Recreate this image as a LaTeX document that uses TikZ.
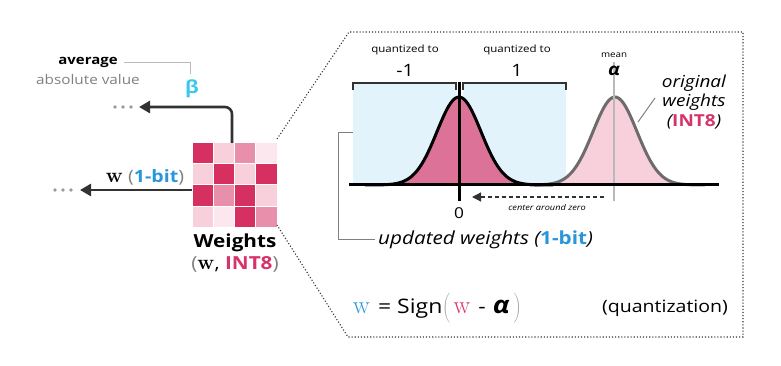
\documentclass[tikz,border=0pt]{standalone}
\usepackage[no-math]{fontspec}
\setmainfont{Open Sans}[FakeStretch=1.15]
\usetikzlibrary{arrows.meta}
\definecolor{pdark}{RGB}{214,48,96}
\definecolor{pmed}{RGB}{232,143,171}
\definecolor{plight}{RGB}{247,208,220}
\definecolor{pvlight}{RGB}{251,231,237}
\definecolor{pcurve}{RGB}{221,114,153}
\definecolor{pinktxt}{RGB}{214,51,106}
\definecolor{bluetxt}{RGB}{41,150,220}
\definecolor{cyantxt}{RGB}{60,200,235}
\definecolor{bluefill}{RGB}{227,243,252}
\definecolor{darkline}{RGB}{50,50,50}
\newcommand{\fs}[1]{\fontsize{#1}{#1}\selectfont}
\newcommand{\bw}[1]{{\fontsize{#1}{#1}\selectfont$\mathbf{w}$}}
\newcommand{\rw}[1]{{\fontsize{#1}{#1}\selectfont$\mathrm{w}$}}
\newcommand{\lparbig}{\textcolor{gray!70}{$\left(\vcenter to 31pt{}\right.$}}
\newcommand{\rparbig}{\textcolor{gray!70}{$\left.\vcenter to 31pt{}\right)$}}
\tikzset{
  arr/.style={darkline, line width=2.6pt, -{Triangle[length=11pt,width=12pt]}},
  dotc/.style={fill=gray!80},
  lead/.style={gray!55, line width=0.8pt},
  thick3/.style={line width=3pt},
  bracket/.style={darkline, line width=1.4pt},
  txt/.style={inner sep=0pt, anchor=center},
}
\begin{document}
\begin{tikzpicture}[x=1pt,y=-1pt]
\useasboundingbox (0,0) rectangle (781,366);
% ---------- weight grid ----------
\node[minimum width=85pt, minimum height=84pt, inner sep=0pt] (grid) at (234.5,185) {};
\def\cs{21.25}
\foreach \row/\cols in {0/{pdark,plight,pmed,pvlight},1/{plight,pdark,plight,pdark},2/{pdark,pmed,pdark,plight},3/{plight,pvlight,pdark,pmed}}{
  \foreach \c [count=\i from 0] in \cols {
    \fill[\c, draw=white, line width=1pt] (192+\i*\cs,143+\row*21) rectangle ++(\cs,21);
  }
}
\node[txt, font=\fs{18}\bfseries] (wlab) at (235,243) {Weights};
\node[txt, font=\fs{18}] (wlab2) at (235,264) {\textcolor{gray}{(}\bw{21}, \textcolor{pinktxt}{\bfseries INT8}\textcolor{gray}{)}};
% ---------- w arrow ----------
\coordinate (wend) at (80,190);
\draw[arr] (grid.west |- wend) -- (wend);
\foreach \xx in {55,63,71} \fill[dotc] (\xx,190) circle (1.8pt);
\node[txt, font=\fs{17}] (wtxt) at (145,177) {\bw{21} \textcolor{gray}{(}\textcolor{bluetxt}{\bfseries 1-bit}\textcolor{gray}{)}};
% ---------- beta arrow ----------
\coordinate (bend) at (139,107);
\draw[arr, rounded corners=7pt] (232,143) |- (bend);
\foreach \xx in {115,123,131} \fill[dotc] (\xx,107) circle (1.8pt);
\node[txt, font=\fs{18}\bfseries, text=cyantxt] (beta) at (192,89) {β};
\node[txt, font=\fs{13}\bfseries] (avg) at (88,62) {average};
\node[txt, font=\fs{13.3}, text=gray] (absv) at (88,80) {absolute value};
\draw[lead] (124,62) -- (190,62) -- (190,74);
% ---------- dotted zoom region ----------
\draw[darkline, dotted, line width=1.1pt] (277,139) -- (349,32) -- (743,32) -- (743,337) -- (348,337) -- (277,225);
% ---------- distributions ----------
\fill[bluefill] (353,84) rectangle (457,185);
\fill[bluefill] (463,84) rectangle (566,185);
\draw[bracket] (353,90) -- (353,83) -- (456,83) -- (456,90);
\draw[bracket] (463,90) -- (463,83) -- (566,83) -- (566,90);
\node[txt, font=\fs{10}] (q1) at (405,50) {quantized to};
\node[txt, font=\fs{10}] (q2) at (517,50) {quantized to};
\node[txt, font=\fs{17}] (m1) at (405,70) {-1};
\node[txt, font=\fs{17}] (p1) at (517,70) {1};
% original (gray) gaussian
\fill[plight] plot[domain=540:700, samples=90] (\x,{185-88*exp(-((\x-615)/22)^2/2)}) -- cycle;
% black gaussian
\fill[pcurve] plot[domain=370:548, samples=100] (\x,{185-88*exp(-((\x-459)/22)^2/2)}) -- cycle;
\draw[gray!85!black, line width=3pt] plot[domain=530:705, samples=100] (\x,{185-88*exp(-((\x-615)/22)^2/2)});
\draw[black, line width=3pt] plot[domain=365:553, samples=100] (\x,{185-88*exp(-((\x-459)/22)^2/2)});
% mean line
\draw[gray!55, line width=1.5pt] (614,62) -- (614,201);
\node[txt, font=\fs{8.5}] (mean) at (614,55) {mean};
\node[txt, font=\fs{17}\bfseries\itshape] (alpha) at (614,71) {α};
% axis and zero
\draw[thick3] (349,185) -- (719,185);
\draw[thick3] (459,82) -- (459,201);
\node[txt, font=\fs{15}] (zero) at (459,213) {0};
% center around zero
\coordinate (cstart) at (604,197);
\coordinate (cend) at (472,197);
\draw[darkline, line width=1.3pt, dash pattern=on 4pt off 3pt, -{Triangle[length=9pt,width=9pt]}] (cstart) -- (cend);
\node[txt, font=\fs{8}\itshape] (caz) at (547,208) {center around zero};
% original weights label
\node[txt, font=\fs{16.5}\itshape, align=center] (orig) at (694,102) {original\\[3pt]weights\\[3pt](\textcolor{pinktxt}{\bfseries\upshape INT8})};
\draw[gray, line width=1pt] (638,122) -- (655,98);
% updated weights
\draw[gray, line width=0.9pt] (353,132) -- (338,132) -- (338,239) -- (375,239);
\node[anchor=west, inner sep=0pt, font=\fs{18}\itshape] (upd) at (378,240) {updated weights (\textcolor{bluetxt}{\bfseries\upshape 1-bit})};
% equation
\node[anchor=west, inner sep=0pt, font=\fs{20}] (eq) at (353,308) {\textcolor{bluetxt}{\rw{28}}\hspace{2pt} = Sign\lparbig\hspace{2pt}\textcolor{pinktxt}{\rw{28}}\hspace{2pt} - \hspace{1pt}{\fs{24}\bfseries\itshape α}\hspace{3pt}\rparbig};
\node[txt, font=\fs{17}] (quant) at (665,308) {(quantization)};
\end{tikzpicture}
\end{document}
